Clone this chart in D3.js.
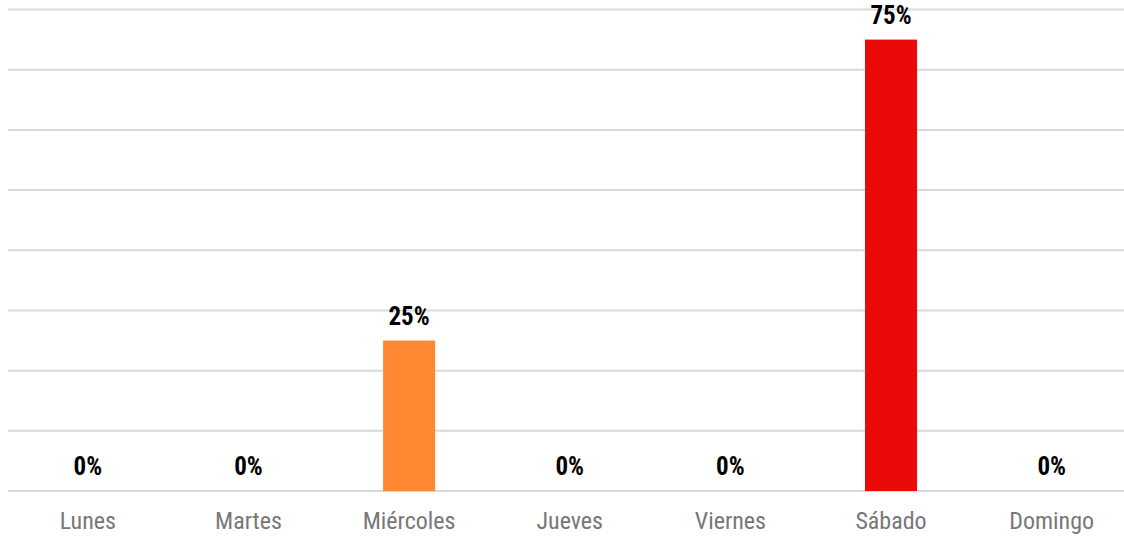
<!DOCTYPE html>
<html>
<head>
<meta charset="utf-8">
<script src="https://cdn.jsdelivr.net/npm/d3@7"></script>
<style>
html,body{margin:0;padding:0;background:#fff;}
svg{display:block;}
text{font-family:"Liberation Sans Narrow","Roboto Condensed","Arial Narrow",Roboto,sans-serif;}
</style>
</head>
<body>
<svg id="chart" width="1124" height="537"></svg>
<script>
const categories = ["Lunes","Martes","Miércoles","Jueves","Viernes","Sábado","Domingo"];
const values = [0,0,25,0,0,75,0];
const barColors = ["#ff8833","#ff8833","#ff8833","#ff8833","#ff8833","#ea0a0a","#ff8833"];
const yTicks = [0,10,20,30,40,50,60,70,80];

const svg = d3.select("#chart");
const x = d3.scaleBand().domain(categories).range([7.5,1132]).paddingInner(0.676).paddingOuter(0.338);
const y = d3.scaleLinear().domain([0,80]).range([491,9.5]);

svg.append("g").selectAll("line").data(yTicks).join("line")
  .attr("x1",8).attr("x2",1124)
  .attr("y1",d=>y(d)).attr("y2",d=>y(d))
  .attr("stroke","#d9d9d9").attr("stroke-width",2);

svg.append("g").selectAll("rect").data(values).join("rect")
  .attr("x",(d,i)=>x(categories[i]))
  .attr("width",x.bandwidth())
  .attr("y",d=>y(d))
  .attr("height",d=>y(0)-y(d))
  .attr("fill",(d,i)=>barColors[i]);

svg.append("g").selectAll("text").data(values).join("text")
  .attr("x",(d,i)=>x(categories[i])+x.bandwidth()/2)
  .attr("y",d=>y(d)-16)
  .attr("text-anchor","middle")
  .attr("font-size",25).attr("font-weight","bold").attr("fill","#000")
  .text(d=>d+"%");

svg.append("g").selectAll("text").data(categories).join("text")
  .attr("x",d=>x(d)+x.bandwidth()/2)
  .attr("y",529)
  .attr("text-anchor","middle")
  .attr("font-size",24).attr("fill","#777")
  .text(d=>d);
</script>
</body>
</html>
